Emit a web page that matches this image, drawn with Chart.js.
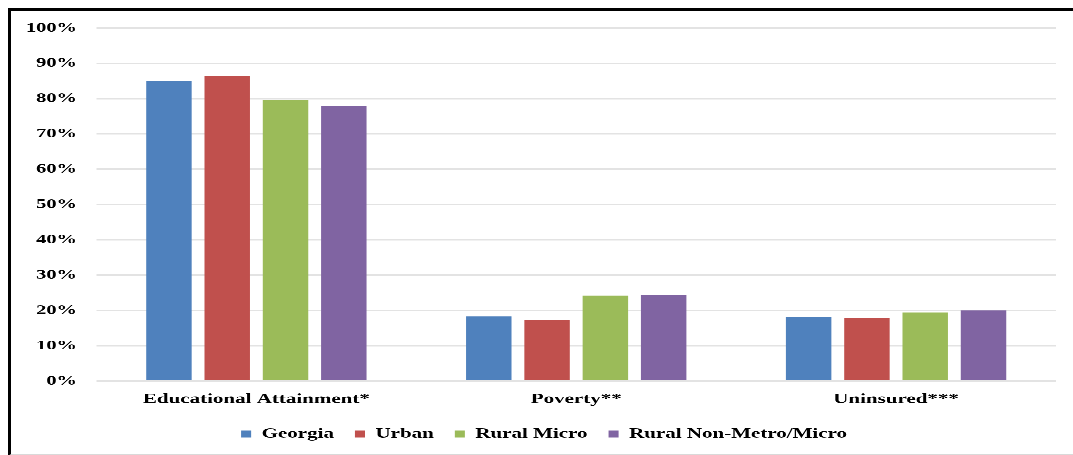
<!DOCTYPE html>
<html>
<head>
<meta charset="utf-8">
<script src="https://cdn.jsdelivr.net/npm/chart.js@4.4.1/dist/chart.umd.min.js"></script>
<style>
  html, body { margin: 0; padding: 0; background: #fff; }
  body { width: 1073px; height: 455px; position: relative; overflow: hidden; }
  /* the reference image is stretched sideways, so draw narrow and widen with CSS */
  #wrap { position: absolute; left: 0; top: 0; width: 715.33px; height: 455px;
          transform: scaleX(1.5); transform-origin: 0 0; }
  #frame { position: absolute; left: 8px; top: 8px; right: -10px; height: 443px;
           border-top: 3px solid #000; border-left: 3px solid #000;
           border-bottom: 2px solid #d9d9d9; pointer-events: none; }
</style>
</head>
<body>
<div id="wrap"><canvas id="chart"></canvas></div>
<div id="frame"></div>
<script>
const categories = ['Educational Attainment*', 'Poverty**', 'Uninsured***'];
const seriesNames = ['Georgia', 'Urban', 'Rural Micro', 'Rural Non-Metro/Micro'];
const georgia = [85.0, 18.3, 18.1];
const urban = [86.5, 17.2, 17.8];
const ruralMicro = [79.6, 24.2, 19.4];
const ruralNonMetro = [77.9, 24.4, 20.0];
const colors = ['#4F81BD', '#C0504D', '#9BBB59', '#8064A2'];

const font = 'Liberation Serif';

const datasets = [georgia, urban, ruralMicro, ruralNonMetro].map((values, i) => ({
  label: seriesNames[i],
  data: values,
  backgroundColor: colors[i],
  borderWidth: 0,
  barPercentage: 0.78,
  categoryPercentage: 0.729,
}));

// legend sits a little right of centre in the original
const nudgeLegend = {
  id: 'nudgeLegend',
  afterLayout(chart) {
    chart.legend.left += 10.7;
    chart.legend.right += 10.7;
  },
};

new Chart(document.getElementById('chart'), {
  type: 'bar',
  data: { labels: categories, datasets: datasets },
  plugins: [nudgeLegend],
  options: {
    responsive: true,
    maintainAspectRatio: false,
    animation: false,
    devicePixelRatio: 3,
    layout: { padding: { top: 28, right: 11.3, bottom: 4, left: 0 } },
    plugins: {
      tooltip: { enabled: false },
      legend: {
        position: 'bottom',
        labels: {
          color: '#000',
          font: { family: font, size: 14, weight: 'bold' },
          boxWidth: 6.7,
          boxHeight: 7,
          padding: 14,
        },
      },
    },
    scales: {
      x: {
        afterFit: (scale) => { scale.height = 32; },
        grid: { display: false, drawTicks: false },
        border: { display: false },
        ticks: {
          color: '#000',
          padding: 10,
          font: { family: font, size: 14, weight: 'bold' },
        },
      },
      y: {
        min: 0,
        max: 100,
        afterFit: (scale) => { scale.width = 64.3; },
        border: { display: false },
        grid: { color: '#e3e3e3', lineWidth: 1.5, drawTicks: false },
        ticks: {
          stepSize: 10,
          padding: 13,
          color: '#000',
          font: { family: font, size: 13.6, weight: 'bold' },
          callback: (value) => value + '%',
        },
      },
    },
  },
});
</script>
</body>
</html>
